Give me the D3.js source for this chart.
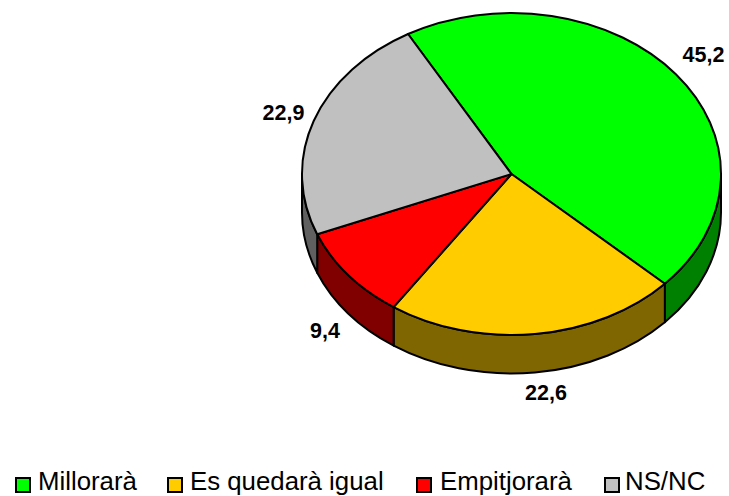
<!DOCTYPE html>
<html>
<head>
<meta charset="utf-8">
<script src="https://cdn.jsdelivr.net/npm/d3@7"></script>
<style>
  html, body { margin: 0; padding: 0; background: #fff; overflow: hidden; }
  text { font-family: "Liberation Sans", Arial, sans-serif; fill: #000; }
</style>
</head>
<body>
<div class="chart"></div>
<script>
// Data
const categories = ['Millorarà', 'Es quedarà igual', 'Empitjorarà', 'NS/NC'];
const values = [45.2, 22.6, 9.4, 22.9];
const valueLabels = ['45,2', '22,6', '9,4', '22,9'];
const topColors = ['#00ff00', '#ffcc00', '#ff0000', '#c0c0c0'];
const sideColors = ['#008000', '#806600', '#800000', '#606060'];

// Layout
const width = 729, height = 496;
const cx = 511.5, cy = 174, rx = 209.5, ry = 161, depth = 38.5;
const startAngle = -29.6 * Math.PI / 180;
const labelPos = [[703.5, 62], [546, 400], [325, 338], [283.5, 120]];
const legendBoxX = [16, 168, 417, 605];
const legendTextX = [38, 190, 440, 625];

const svg = d3.select('.chart')
  .append('svg')
  .attr('width', width)
  .attr('height', height);

// Pie angles
const pie = d3.pie().sort(null).startAngle(startAngle).endAngle(startAngle + 2 * Math.PI);
const slices = pie(values);

// Point on the tilted ellipse, angle clockwise from the top
const px = a => cx + rx * Math.sin(a);
const py = a => cy - ry * Math.cos(a);

// Side walls: only the part of each slice facing the viewer
const frontStart = Math.PI / 2, frontEnd = 3 * Math.PI / 2;
const sides = slices.map((s, i) => ({
  a0: Math.max(s.startAngle, frontStart),
  a1: Math.min(s.endAngle, frontEnd),
  i
})).filter(s => s.a1 > s.a0);

const sidePath = s => `M${px(s.a0)},${py(s.a0)}`
  + `A${rx},${ry} 0 0 1 ${px(s.a1)},${py(s.a1)}`
  + `L${px(s.a1)},${py(s.a1) + depth}`
  + `A${rx},${ry} 0 0 0 ${px(s.a0)},${py(s.a0) + depth}Z`;

svg.selectAll('.side')
  .data(sides)
  .enter().append('path')
  .attr('class', 'side')
  .attr('d', sidePath)
  .attr('fill', d => sideColors[d.i])
  .attr('stroke', '#000')
  .attr('stroke-width', 2)
  .attr('stroke-linejoin', 'round');

// Top face: circular arcs squashed into an ellipse
const arc = d3.arc().innerRadius(0).outerRadius(rx);

svg.append('g')
  .attr('transform', `translate(${cx},${cy}) scale(1,${ry / rx})`)
  .selectAll('.slice')
  .data(slices)
  .enter().append('path')
  .attr('class', 'slice')
  .attr('d', arc)
  .attr('fill', (d, i) => topColors[i])
  .attr('stroke', '#000')
  .attr('stroke-width', 2)
  .attr('stroke-linejoin', 'round')
  .attr('vector-effect', 'non-scaling-stroke');

// Value labels
svg.selectAll('.value')
  .data(valueLabels)
  .enter().append('text')
  .attr('class', 'value')
  .attr('x', (d, i) => labelPos[i][0])
  .attr('y', (d, i) => labelPos[i][1])
  .attr('text-anchor', 'middle')
  .attr('font-size', 21.5)
  .attr('font-weight', 'bold')
  .text(d => d);

// Legend
svg.selectAll('.legend-box')
  .data(categories)
  .enter().append('rect')
  .attr('class', 'legend-box')
  .attr('x', (d, i) => legendBoxX[i])
  .attr('y', 478)
  .attr('width', 14)
  .attr('height', 14)
  .attr('fill', (d, i) => topColors[i])
  .attr('stroke', '#000')
  .attr('stroke-width', 2);

svg.selectAll('.legend-text')
  .data(categories)
  .enter().append('text')
  .attr('class', 'legend-text')
  .attr('x', (d, i) => legendTextX[i])
  .attr('y', 490)
  .attr('font-size', 25.8)
  .text(d => d);
</script>
</body>
</html>
